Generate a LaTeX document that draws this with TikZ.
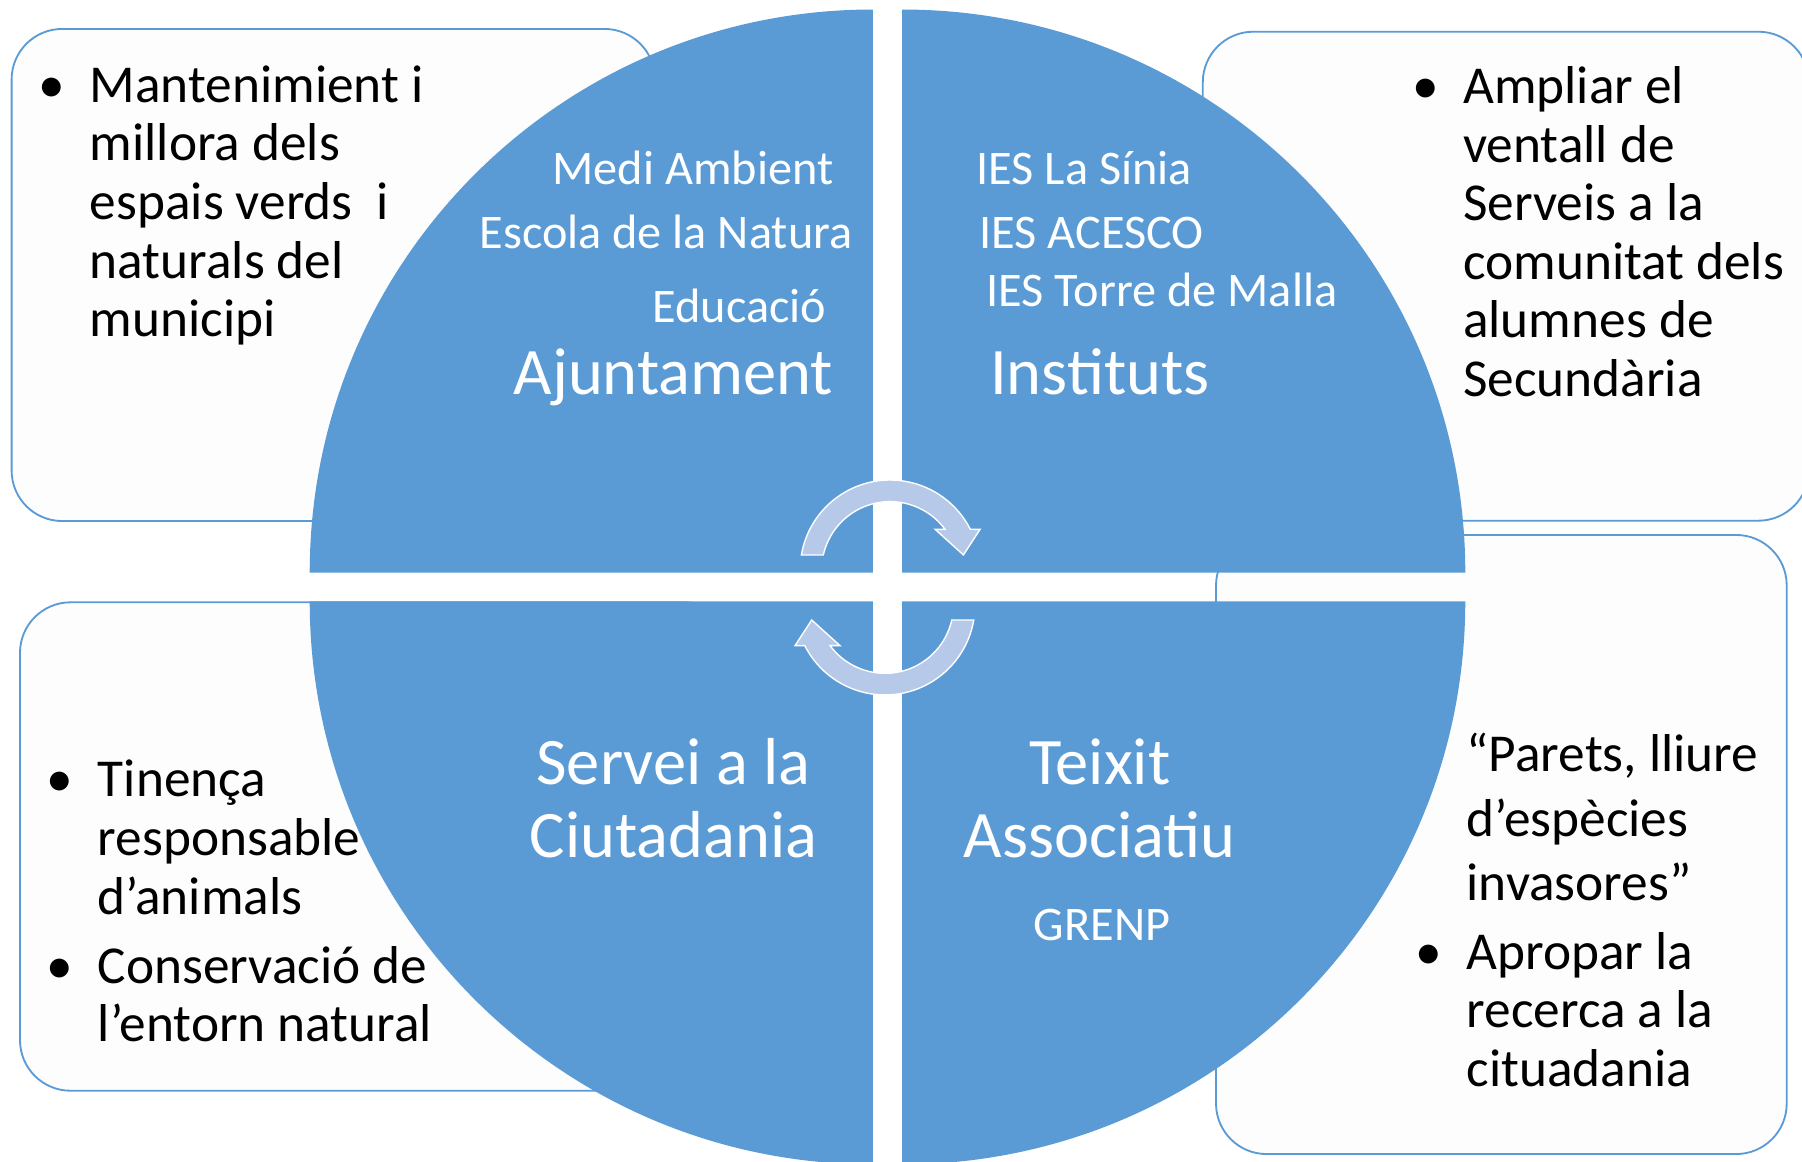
\documentclass[tikz,border=0pt]{standalone}
\usepackage{fontspec}
\setmainfont{Carlito}
\definecolor{qblue}{RGB}{91,155,213}
\definecolor{arrowblue}{RGB}{183,201,232}
\definecolor{boxwhite}{RGB}{253,253,253}
\newcommand\bul{\llap{\makebox[0pt][c]{\textbullet}\hspace{33pt}}}
\tikzset{
  quad/.style={fill=qblue},
  infobox/.style={draw=qblue, line width=1.6pt, fill=boxwhite, rounded corners=44pt},
  boxtext/.style={anchor=base west, inner sep=0pt, text=black, font=\fontsize{46.4}{51}\selectfont},
  smalltext/.style={anchor=base, inner sep=0pt, text=white, font=\fontsize{42}{49}\selectfont},
  titletext/.style={anchor=base, inner sep=0pt, text=white, font=\fontsize{57.8}{64}\selectfont},
  cyc/.style={fill=arrowblue, draw=white, line width=1.2pt, line join=miter}
}
\newcommand\cyclearrowpath{(170.4:78.3) arc[start angle=170.4, end angle=26.9, radius=78.3] -- (78.3,35.4) -- (63.8,13.1) -- (39.2,35.4) -- (47.8,35.4) arc[start angle=36.5, end angle=167.3, radius=59.5] -- cycle}
\begin{document}
\begin{tikzpicture}[x=1pt, y=1pt]
\useasboundingbox (0,0) rectangle (1568,1011);
\fill[white] (0,0) rectangle (1568,1011);
% boxes behind circle
\draw[infobox] (10.1,557.6) rectangle (570,985.8);
\draw[infobox] (1046.6,557.9) rectangle (1574,983.4);
\draw[infobox] (1058.1,6.8) rectangle (1554.7,545.5);
\draw[infobox] (17.4,61.9) rectangle (640,486.9);
% quadrants
\fill[quad] (759.5,512.7) -- ++(-490,0) arc[start angle=180, end angle=90, radius=490] -- cycle;
\fill[quad] (785,512.7) -- ++(0,490) arc[start angle=90, end angle=0, radius=490] -- cycle;
\fill[quad] (759.5,487.8) -- ++(0,-490) arc[start angle=270, end angle=180, radius=490] -- cycle;
\fill[quad] (785,487.8) -- ++(490,0) arc[start angle=0, end angle=-90, radius=490] -- cycle;
% cycle arrows
\begin{scope}[shift={(774.5,515.0)}]
  \draw[cyc] \cyclearrowpath;
\end{scope}
\begin{scope}[shift={(772.3,499.8)}, rotate=180]
  \begin{scope}[shift={(2.2,15.2)}]
    \draw[cyc] \cyclearrowpath;
  \end{scope}
\end{scope}
% circle texts
\node[smalltext] (medi) at (603,850.5) {Medi Ambient};
\node[smalltext] (escola) at (579.5,794.5) {Escola de la Natura};
\node[smalltext] (educ) at (643.5,730.5) {Educació};
\node[titletext] (ajunt) at (586,668) {Ajuntament};
\node[smalltext] (sinia) at (943.5,850.5) {IES La Sínia};
\node[smalltext] (acesco) at (950,794.5) {IES ACESCO};
\node[smalltext] (torre) at (1011,744.5) {IES Torre de Malla};
\node[titletext] (inst) at (957,668) {Instituts};
\node[titletext] (servei) at (586,328.5) {\begin{tabular}[t]{@{}c@{}}Servei a la\\ Ciutadania\end{tabular}};
\node[titletext] (teixit) at (957,328.5) {\begin{tabular}[t]{@{}c@{}}Teixit\\ Associatiu\end{tabular}};
\node[smalltext] (grenp) at (959,192.5) {GRENP};
% box texts
\node[boxtext] (tltext) at (78,922) {\begin{tabular}[t]{@{}l@{}}\bul Mantenimient i\\ millora dels\\ espais verds\ \ i\\ naturals del\\ municipi\end{tabular}};
\node[boxtext] (trtext) at (1273,921) {\begin{tabular}[t]{@{}l@{}}\bul Ampliar el\\ ventall de\\ Serveis a la\\ comunitat dels\\ alumnes de\\ Secundària\end{tabular}};
\node[boxtext] (blone) at (85,317.5) {\begin{tabular}[t]{@{}l@{}}\bul Tinença\\ responsable\\ d’animals\end{tabular}};
\node[boxtext] (bltwo) at (85,155.5) {\begin{tabular}[t]{@{}l@{}}\bul Conservació de\\ l’entorn natural\end{tabular}};
\node[boxtext, font=\fontsize{46.4}{56.5}\selectfont] (brone) at (1276,340) {\begin{tabular}[t]{@{}l@{}}“Parets, lliure\\ d’espècies\\ invasores”\end{tabular}};
\node[boxtext] (brtwo) at (1276,167.5) {\begin{tabular}[t]{@{}l@{}}\bul Apropar la\\ recerca a la\\ cituadania\end{tabular}};
\end{tikzpicture}
\end{document}
